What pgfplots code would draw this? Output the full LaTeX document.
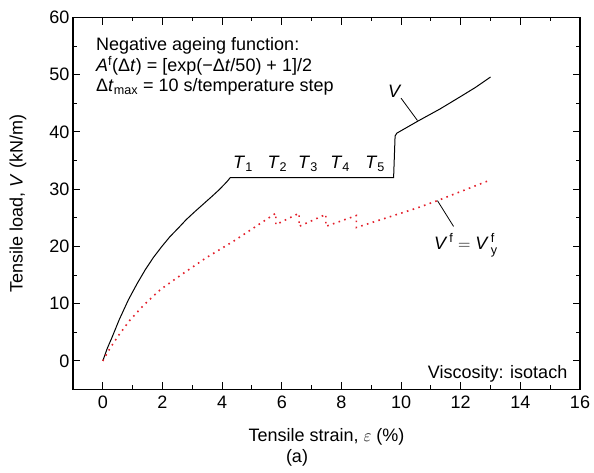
\documentclass[border=0pt]{standalone}
\usepackage{fontspec}
\setmainfont{Liberation Sans}
\usepackage{amsmath}
\usepackage{pgfplots}
\pgfplotsset{compat=1.18}
\definecolor{vred}{HTML}{E3202B}
\tikzset{tk/.style={draw=black, line width=1bp}}
\begin{document}
\begin{tikzpicture}
\begin{axis}[
  scale only axis, width=507bp, height=372bp,
  xmin=-1, xmax=16, ymin=-5, ymax=60,
  xtick={0,2,...,16}, ytick={0,10,...,60},
  tick align=inside,
  major tick length=7bp,
  tick style={black, line width=1bp},
  axis line style={line width=1.1bp},
  font=\fontsize{18bp}{21bp}\selectfont,
  /pgf/number format/assume math mode=true,
  xticklabel style={yshift=-3bp},
  xlabel={Tensile strain, $\varepsilon$ (\%)},
  ylabel={Tensile load, \textit{V} (kN/m)},
  xlabel style={at={(axis description cs:0.5,0)}, anchor=center, yshift=-47.5bp},
  ylabel style={at={(axis description cs:-0.1085,0.5)}, anchor=center},
]
% V
\addplot[black, line width=1bp] coordinates {
  (0,0) (0.15,2.2) (0.3,4.0) (0.55,7.2) (0.86,10.7) (1.15,13.5) (1.42,15.9)
  (1.7,18.1) (1.98,20.0) (2.25,21.7) (2.53,23.2) (2.8,24.7) (3.09,26.1)
  (3.37,27.4) (3.65,28.7) (3.9,29.9) (4.16,31.3) (4.27,32.0) (9.75,32.0)
  (9.8,39.3) (9.86,39.8) (10.6,42.0) (11.3,44.0) (12.0,46.2) (12.5,47.8)
  (13.0,49.6)
};
% V^f
\addplot[vred, line width=1.6bp, dash pattern=on 1.6bp off 4.4bp] coordinates {
  (0,0) (0.24,2.2) (0.52,4.4) (0.89,7.0) (1.38,9.8) (1.94,12.5) (2.70,15.3)
  (3.46,18.0) (4.41,21.0) (5.8,25.8) (5.8,23.8) (6.58,25.8) (6.58,23.5)
  (7.48,25.6) (7.48,23.5) (8.5,25.4) (8.5,23.3) (10.53,26.7) (11.22,28.0)
  (12.94,31.5)
};
\draw[line width=0.8bp] (axis cs:10.0,45.9) -- (axis cs:10.55,42.0);
\draw[line width=0.8bp] (axis cs:11.22,28.0) -- (axis cs:11.76,23.5);
\node[anchor=base, inner sep=0] at (axis cs:9.79,46.1) {\textit{V}};
\node[anchor=base, inner sep=0] at (axis cs:12.17,19.4)
  {$\text{\itshape V\/}^{\,\text{f}} = \text{\itshape V\/}^{\,\text{f}}_{\,\text{y}}$};
\node[anchor=base, inner sep=0] at (axis cs:4.70,33.6) {\textit{T}\textsubscript{1}};
\node[anchor=base, inner sep=0] at (axis cs:5.85,33.6) {\textit{T}\textsubscript{2}};
\node[anchor=base, inner sep=0] at (axis cs:6.88,33.6) {\textit{T}\textsubscript{3}};
\node[anchor=base, inner sep=0] at (axis cs:7.96,33.6) {\textit{T}\textsubscript{4}};
\node[anchor=base, inner sep=0] at (axis cs:9.13,33.6) {\textit{T}\textsubscript{5}};
\node[anchor=base west, inner sep=0] at (axis cs:-0.23,54.2) {Negative ageing function:};
\node[anchor=base west, inner sep=0] at (axis cs:-0.23,50.5)
  {\textit{A}\textsuperscript{f}(Δ\textit{t}) = [exp(−Δ\textit{t}/50) + 1]/2};
\node[anchor=base west, inner sep=0] at (axis cs:-0.23,47.0)
  {Δ\textit{t}\textsubscript{max} = 10 s/temperature step};
\node[anchor=base east, inner sep=0] at (axis cs:15.58,-3.0) {Viscosity: isotach};
\end{axis}
% ticks on all four sides (x unit 29.8235bp, y unit 5.72308bp)
\foreach \k in {0,...,8} {
  \draw[tk] ([xshift={(1+2*\k)*29.8235bp}]current axis.south west) -- ++(0,7bp);
  \draw[tk] ([xshift={(1+2*\k)*29.8235bp}]current axis.north west) -- ++(0,-7bp);
  \draw[tk] ([xshift={(2*\k)*29.8235bp}]current axis.south west) -- ++(0,4bp);
  \draw[tk] ([xshift={(2*\k)*29.8235bp}]current axis.north west) -- ++(0,-4bp);
}
\foreach \k in {0,...,6} {
  \draw[tk] ([yshift={(5+10*\k)*5.72308bp}]current axis.south west) -- ++(7bp,0);
  \draw[tk] ([yshift={(5+10*\k)*5.72308bp}]current axis.south east) -- ++(-7bp,0);
  \draw[tk] ([yshift={(10*\k)*5.72308bp}]current axis.south west) -- ++(4bp,0);
  \draw[tk] ([yshift={(10*\k)*5.72308bp}]current axis.south east) -- ++(-4bp,0);
}
\node[font=\fontsize{18bp}{21bp}\selectfont] at ([xshift=224bp,yshift=-68.5bp]current axis.south west) {(a)};
\path ([xshift=-73bp,yshift=-83.5bp]current axis.south west) rectangle ++(594bp,473bp);
\end{tikzpicture}
\end{document}
